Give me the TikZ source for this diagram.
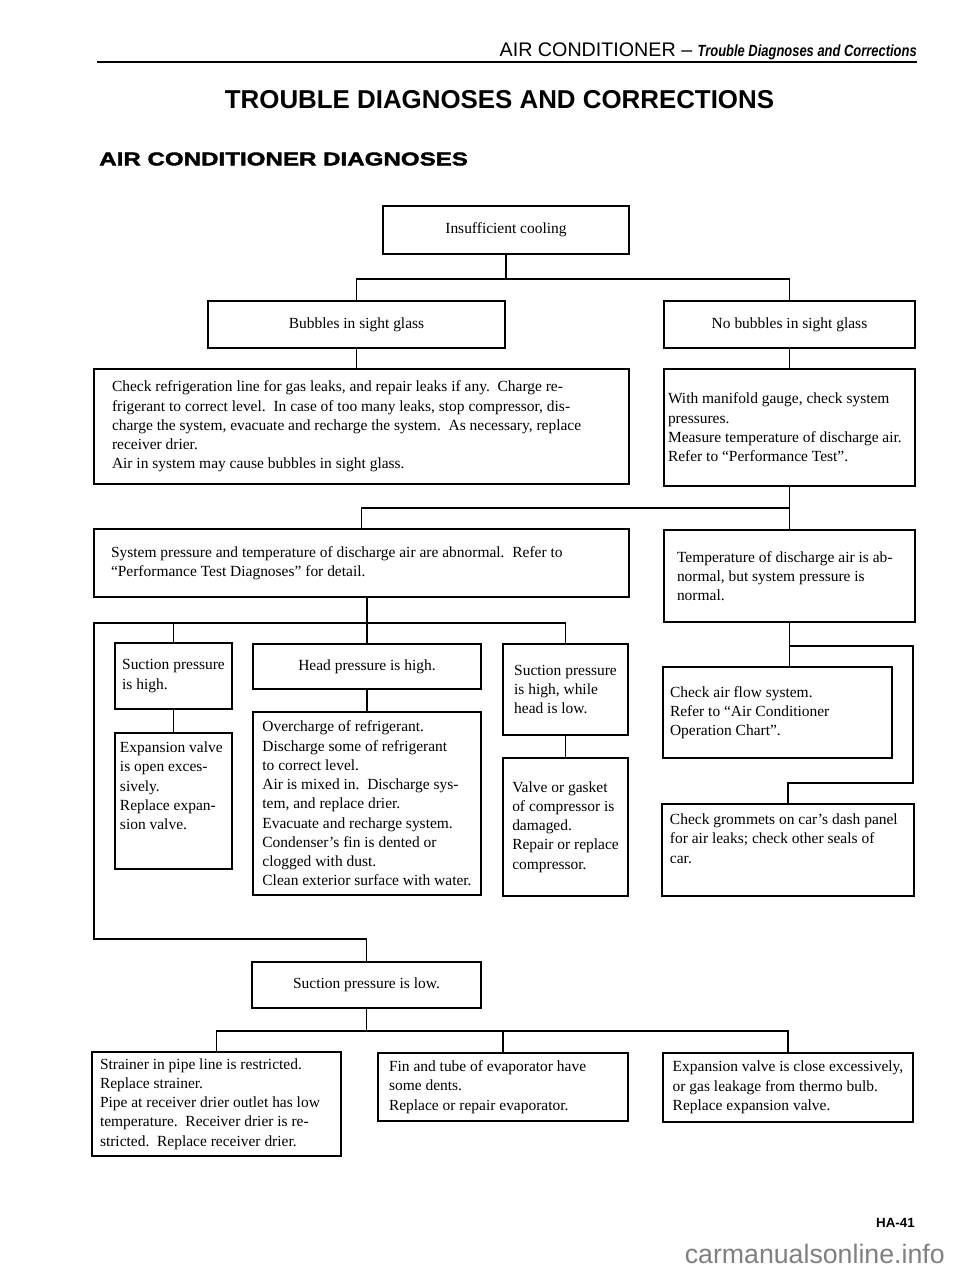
\documentclass[tikz,border=0pt]{standalone}
\usepackage{fontspec}
\setmainfont{Liberation Serif}
\setsansfont{Liberation Sans}
\newfontfamily\narrowsans[FakeStretch=0.8]{Liberation Sans}
\newfontfamily\widesans[FakeStretch=1.3,FakeBold=2]{Liberation Sans}

\begin{document}
\begin{tikzpicture}[x=0.025cm, y=-0.025cm,
  box/.style={draw, line width=1.4pt, inner sep=0pt, align=flush left, font=\fontsize{11}{13.7}\selectfont},
  sz/.style 2 args={minimum width=#1*0.025cm, minimum height=#2*0.025cm},
  tw/.style={text width=#1*0.025cm},
  conn/.style={line width=1.4pt}]
\fill[white] (0,0) rectangle (960,1271);
\useasboundingbox (0,0) rectangle (960,1271);

% page head
\node[anchor=base east, inner sep=0pt, font=\sffamily\fontsize{14}{16}\selectfont] (hdr) at (917,56)
  {AIR CONDITIONER -- {\narrowsans\bfseries\itshape\fontsize{11.5}{14}\selectfont Trouble Diagnoses and Corrections}};
\draw[line width=2pt] (97,62) -- (917,62);
\node[inner sep=0pt, font=\sffamily\bfseries\fontsize{18.4}{20}\selectfont] (ttl) at (499.5,100) {TROUBLE DIAGNOSES AND CORRECTIONS};
\node[anchor=west, inner sep=0pt, font=\widesans\bfseries\fontsize{13.2}{15}\selectfont] (sub) at (99,159) {AIR CONDITIONER DIAGNOSES};

% first level
\node[box, sz={246}{48}] (cool) at (506,230) {Insufficient cooling};
\node[box, sz={297}{47}] (bub) at (356.5,324.5) {Bubbles in sight glass};
\node[box, sz={251}{47}] (nobub) at (789.5,324.5) {No bubbles in sight glass};
\node[box, sz={535}{115}, tw=499] (chk) at (361.5,426.5) {Check refrigeration line for gas leaks, and repair leaks if any.\ \ Charge re-\\frigerant to correct level.\ \ In case of too many leaks, stop compressor, dis-\\charge the system, evacuate and recharge the system.\ \ As necessary, replace\\receiver drier.\\Air in system may cause bubbles in sight glass.};
\node[box, sz={251}{117}, tw=243] (mani) at (789.5,427.5) {With manifold gauge, check system\\pressures.\\Measure temperature of discharge air.\\Refer to ``Performance Test''.};
\node[box, sz={535}{68}, tw=501] (sys) at (361.5,563) {System pressure and temperature of discharge air are abnormal.\ \ Refer to\\``Performance Test Diagnoses'' for detail.};
\node[box, sz={251}{92}, tw=225] (temp) at (789.5,576) {Temperature of discharge air is ab-\\normal, but system pressure is\\normal.};

% pressure branch
\node[box, sz={117}{66}] (suchi) at (173.5,676) {Suction pressure\\is high.};
\node[box, sz={117}{0}, inner ysep=0.225cm] (expo) at (173.5,801) {\parbox[c][2.95cm][t]{2.675cm}{\raggedright Expansion valve\\is open exces-\\sively.\\Replace expan-\\sion valve.}};
\node[box, sz={228}{45}] (head) at (367,666.5) {Head pressure is high.};
\node[box, sz={228}{183}] (over) at (367,803.5) {Overcharge of refrigerant.\\Discharge some of refrigerant\\to correct level.\\Air is mixed in.\ \ Discharge sys-\\tem, and replace drier.\\Evacuate and recharge system.\\Condenser's fin is dented or\\clogged with dust.\\Clean exterior surface with water.};
\node[box, sz={125}{91}] (suclohi) at (565.5,689.5) {Suction pressure\\is high, while\\head is low.};
\node[box, sz={125}{138}] (valve) at (565.5,827) {Valve or gasket\\of compressor is\\damaged.\\Repair or replace\\compressor.};

% temperature branch
\node[box, sz={229}{91}, tw=215] (airflow) at (777.5,712.5) {Check air flow system.\\Refer to ``Air Conditioner\\Operation Chart''.};
\node[box, sz={252}{0}, inner ysep=0.25cm] (grom) at (788,850) {\parbox[c][1.8cm][t]{5.9cm}{\raggedright Check grommets on car's dash panel\\for air leaks; check other seals of\\car.}};

% low suction
\node[box, sz={229}{46}] (suclo) at (366.5,985) {Suction pressure is low.};
\node[box, sz={249}{104}, tw=233] (strain) at (216.5,1104) {Strainer in pipe line is restricted.\\Replace strainer.\\Pipe at receiver drier outlet has low\\temperature.\ \ Receiver drier is re-\\stricted.\ \ Replace receiver drier.};
\node[box, sz={250}{68}, tw=228] (fin) at (503,1087) {Fin and tube of evaporator have\\some dents.\\Replace or repair evaporator.};
\node[box, sz={250}{69}] (expc) at (788,1087.5) {Expansion valve is close excessively,\\or gas leakage from thermo bulb.\\Replace expansion valve.};

% connectors
\draw[conn] (cool.south) -- ++(0,24) coordinate (j1);
\draw[conn] (bub.north) |- (j1) -| (nobub.north);
\draw[conn] (bub.south) -- (bub.south |- chk.north);
\draw[conn] (nobub.south) -- (mani.north);
\draw[conn] (mani.south) -- (temp.north);
\path (mani.south) ++(0,21) coordinate (j2);
\draw[conn] (j2) -| (sys.north);
\path (head.north |- sys.south) coordinate (s0);
\draw[conn] (s0) -- (head.north);
\path (s0) ++(0,25) coordinate (j3);
\coordinate (lft) at (94,939);
\draw[conn] (suchi.north) |- (j3) -| (suclohi.north);
\draw[conn] (j3) -| (lft) -| (suclo.north);
\draw[conn] (suchi.south) -- (expo.north);
\draw[conn] (head.south) -- (over.north);
\draw[conn] (suclohi.south) -- (valve.north);
\draw[conn] (temp.south) -- (temp.south |- airflow.north);
\path (temp.south) ++(0,23) coordinate (j5);
\coordinate (rt) at (913,783);
\draw[conn] (j5) -| (rt) -| (grom.north);
\draw[conn] (suclo.south) -- ++(0,22) coordinate (j6);
\draw[conn] (strain.north) |- (j6) -| (expc.north);
\draw[conn] (j6) -| (fin.north);

% page foot
\node[anchor=east, inner sep=0pt, font=\sffamily\bfseries\fontsize{9.5}{11}\selectfont] (pg) at (915,1223) {HA-41};
\node[anchor=base east, inner sep=0pt, text=black!50, font=\sffamily\fontsize{19}{22}\selectfont] (wm) at (945,1263) {carmanualsonline.info};
\end{tikzpicture}
\end{document}
